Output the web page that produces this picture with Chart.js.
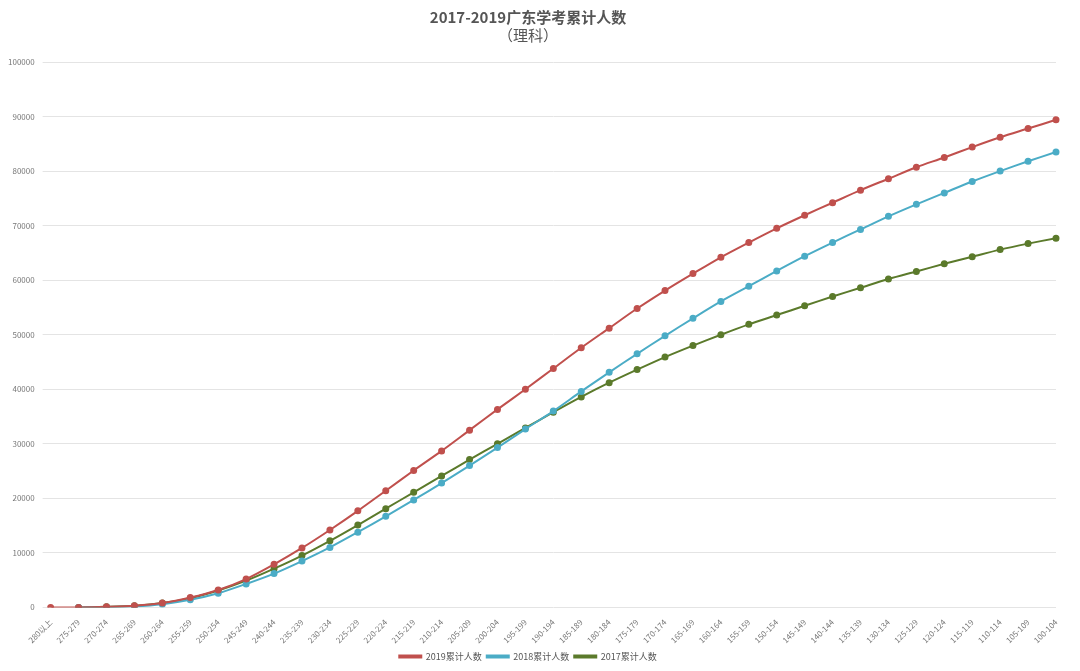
<!DOCTYPE html>
<html>
<head>
<meta charset="utf-8">
<script src="https://cdn.jsdelivr.net/npm/chart.js@4"></script>
<style>
  html, body { margin: 0; padding: 0; background: #fff; }
  #wrap { width: 1080px; height: 671px; position: relative; }
</style>
</head>
<body>
<div id="wrap"><canvas id="chart"></canvas></div>
<script>
var CATEGORIES = ['280以上'];
for (var s = 275; s >= 100; s -= 5) CATEGORIES.push(s + '-' + (s + 4));

var SERIES_2019 = [0, 0, 100, 300, 800, 1800, 3200, 5200, 7900, 10900, 14200, 17700, 21400, 25100, 28700, 32500, 36300, 40000, 43800, 47600, 51200, 54800, 58100, 61200, 64200, 66900, 69500, 71900, 74200, 76500, 78600, 80700, 82500, 84400, 86200, 87800, 89400];
var SERIES_2018 = [null, 0, 50, 200, 600, 1400, 2600, 4300, 6200, 8500, 11000, 13800, 16700, 19700, 22800, 26000, 29300, 32700, 36000, 39600, 43100, 46500, 49800, 53000, 56100, 58900, 61700, 64400, 66900, 69300, 71700, 73900, 76000, 78100, 80000, 81800, 83500];
var SERIES_2017 = [null, 0, 100, 300, 800, 1700, 3100, 4900, 7100, 9500, 12200, 15100, 18100, 21100, 24100, 27100, 30000, 32900, 35800, 38600, 41200, 43600, 45900, 48000, 50000, 51900, 53600, 55300, 57000, 58600, 60200, 61600, 63000, 64300, 65600, 66700, 67700];

var FONT = "'Noto Sans CJK SC', 'Noto Sans', sans-serif";

function ds(label, data, color) {
  return {
    label: label, data: data, borderColor: color, backgroundColor: color,
    borderWidth: 2, pointRadius: 2.5, pointHoverRadius: 2.5, tension: 0.3, spanGaps: true
  };
}

Chart.defaults.font.family = FONT;
Chart.defaults.color = '#666';

new Chart(document.getElementById('chart'), {
  type: 'line',
  data: {
    labels: CATEGORIES,
    datasets: [
      ds('2019累计人数', SERIES_2019, '#c0504d'),
      ds('2018累计人数', SERIES_2018, '#4bacc6'),
      ds('2017累计人数', SERIES_2017, '#5b7a2b')
    ]
  },
  options: {
    responsive: true, maintainAspectRatio: false, animation: false,
    layout: { padding: { left: 0, right: 24, top: 4, bottom: 0 } },
    plugins: {
      title: {
        display: true, text: '2017-2019广东学考累计人数',
        color: '#555', font: { size: 15, weight: 'bold' }, padding: { top: 4, bottom: 0 }
      },
      subtitle: {
        display: true, text: '（理科）',
        color: '#555', font: { size: 15 }, padding: { top: 0, bottom: 18 }
      },
      legend: {
        position: 'bottom',
        labels: { font: { size: 9 }, color: '#555', boxWidth: 22, boxHeight: 2, padding: 5 }
      },
      tooltip: { enabled: false }
    },
    scales: {
      x: {
        grid: { display: false }, border: { display: false },
        ticks: { font: { size: 8 }, color: '#777', maxRotation: 45, minRotation: 45, autoSkip: false, padding: 2 }
      },
      y: {
        min: 0, max: 100000,
        grid: { color: '#e4e4e4' }, border: { display: false },
        ticks: {
          stepSize: 10000, font: { size: 8 }, color: '#777', padding: 8,
          callback: function (v) { return String(v); }
        }
      }
    }
  }
});
</script>
</body>
</html>
